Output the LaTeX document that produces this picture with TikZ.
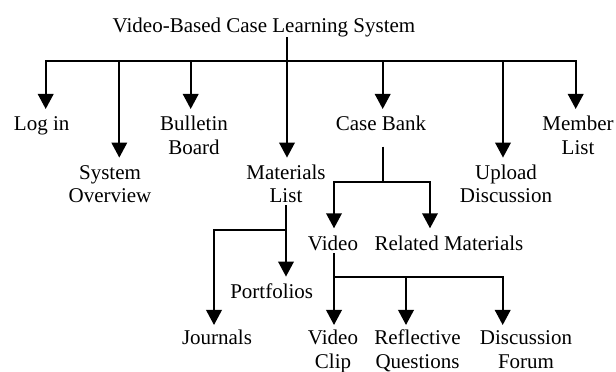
\documentclass[tikz,border=0pt]{standalone}
\usepackage{fontspec}
\setmainfont{Liberation Serif}
\usetikzlibrary{arrows.meta,calc}
\newcommand{\lbl}[1]{\begin{tabular}[t]{@{}c@{}}#1\end{tabular}}
\tikzset{
  lab/.style={anchor=base, inner xsep=0pt, inner ysep=5.7pt, font=\fontsize{21}{23.3}\selectfont},
  lowlab/.style={lab, inner ysep=3.7pt},
  ln/.style={line width=2pt},
  arr/.style={line width=2pt, -{Triangle[width=15.5pt,length=15pt]}, shorten >=-0.5pt},
}
\begin{document}
\begin{tikzpicture}[x=1pt,y=-1pt]
\useasboundingbox (0,0) rectangle (616,372);
% root
\node[anchor=base, inner sep=0pt, font=\fontsize{21}{23.3}\selectfont] (root) at (264,32.3) {Video-Based Case Learning System};
% level 1
\node[lab] (login) at (41.7,130.7) {\lbl{Log in}};
\node[lab] (sysov) at (110,179.3) {\lbl{System\\Overview}};
\node[lab] (bull) at (194,130.7) {\lbl{Bulletin\\Board}};
\node[lab] (mat) at (286,179.3) {\lbl{Materials\\List}};
\node[lab] (cb) at (381,130.7) {\lbl{Case Bank}};
\node[lab] (up) at (506,179.3) {\lbl{Upload\\Discussion}};
\node[lab] (mem) at (578,130.7) {\lbl{Member\\List}};
% level 2
\node[lab] (port) at (271.7,298.3) {\lbl{Portfolios}};
\node[lowlab] (jour) at (217,344.7) {\lbl{Journals}};
\node[lab] (vid) at (333,250) {\lbl{Video}};
\node[lab] (rel) at (449,250) {\lbl{Related Materials}};
\node[lowlab] (clip) at (333,344.7) {\lbl{Video\\Clip}};
\node[lowlab] (refl) at (417.5,344.7) {\lbl{Reflective\\Questions}};
\node[lowlab] (forum) at (526,344.7) {\lbl{Discussion\\Forum}};
% junctions on the main bar
\coordinate (b1) at (45.7,61);
\coordinate (b2) at (119.3,61);
\coordinate (b3) at (190.7,61);
\coordinate (b4) at (287,61);
\coordinate (b5) at (382.7,61);
\coordinate (b6) at (503,61);
\coordinate (b7) at (575.7,61);
% main connectors
\draw[ln] (b1) -- (b7);
\draw[arr] (b2) -- (b1) -- (b1 |- login.north);
\draw[arr] (b6) -- (b7) -- (b7 |- mem.north);
\draw[arr] (b2) -- (b2 |- sysov.north);
\draw[arr] (b3) -- (b3 |- bull.north);
\draw[arr] (b4 |- root.south) -- (b4 |- mat.north);
\draw[arr] (b5) -- (b5 |- cb.north);
\draw[arr] (b6) -- (b6 |- up.north);
% Case Bank subtree
\coordinate (c0) at (382.7,146.7);
\coordinate (c1) at (382.7,181.7);
\coordinate (cl) at (334,181.7);
\coordinate (cr) at (430,181.7);
\draw[ln] (c0) -- (c1);
\draw[arr] (c1) -- (cl) -- (cl |- vid.north);
\draw[arr] (c1) -- (cr) -- (cr |- rel.north);
% Materials subtree
\coordinate (m0) at (286,205);
\coordinate (m1) at (286,230);
\coordinate (mj) at (214,230);
\draw[arr] (m0) -- (m0 |- port.north);
\draw[arr] (m1) -- (mj) -- (mj |- jour.north);
% Video subtree
\coordinate (v0) at (334,253.3);
\coordinate (v1) at (334,277.3);
\coordinate (v2) at (406,277.3);
\coordinate (v3) at (502.7,277.3);
\draw[arr] (v0) -- (v0 |- clip.north);
\draw[arr] (v1) -- (v3) -- (v3 |- forum.north);
\draw[arr] (v2) -- (v2 |- refl.north);
\end{tikzpicture}
\end{document}
